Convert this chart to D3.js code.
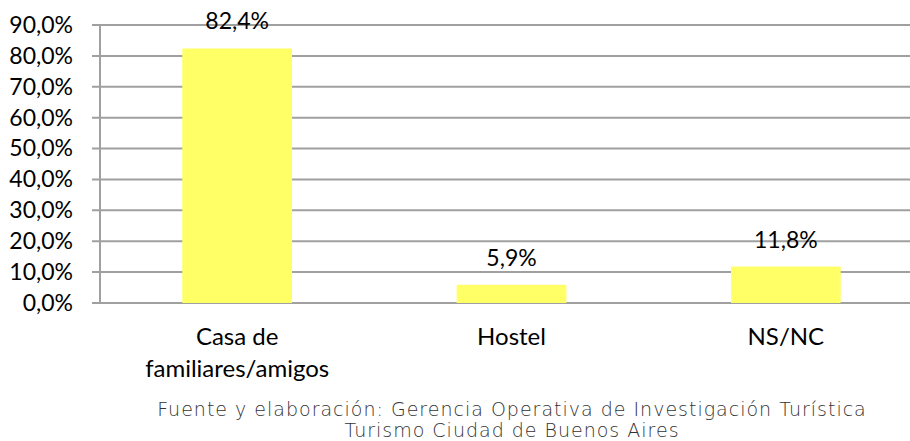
<!DOCTYPE html>
<html>
<head>
<meta charset="utf-8">
<script src="https://cdn.jsdelivr.net/npm/d3@7"></script>
<style>
  body { margin: 0; background: #fff; }
  text { font-family: Lato, "Open Sans", sans-serif; }
</style>
</head>
<body>
<svg id="chart" width="910" height="441"></svg>
<script>
const categories = [["Casa de", "familiares/amigos"], ["Hostel"], ["NS/NC"]];
const values = [82.4, 5.9, 11.8];
const valueLabels = ["82,4%", "5,9%", "11,8%"];
const yTicks = [0, 10, 20, 30, 40, 50, 60, 70, 80, 90];
const footer = ["Fuente y elaboración: Gerencia Operativa de Investigación Turística",
                "Turismo Ciudad de Buenos Aires"];

const svg = d3.select('#chart');

const xScale = d3.scaleBand().domain(d3.range(values.length))
    .range([100, 923]).paddingInner(0.6).paddingOuter(0.3);
const yScale = d3.scaleLinear().domain([0, 90]).range([303, 25]);

// gridlines
svg.append('g').selectAll('line')
    .data(yTicks)
    .enter()
    .append('line')
    .attr('x1', 92).attr('x2', 923)
    .attr('y1', d => yScale(d)).attr('y2', d => yScale(d))
    .attr('stroke', '#a0a0a0')
    .attr('stroke-width', 2);

// y axis
const yAxis = d3.axisLeft(yScale).tickValues(yTicks).tickSize(0).tickPadding(27)
    .tickFormat(d => d3.format('.1f')(d).replace('.', ',') + '%');
const gy = svg.append('g').attr('transform', 'translate(100,0)').call(yAxis);
gy.select('.domain').remove();
gy.selectAll('text').attr('font-size', 23).attr('fill', '#000')
    .style('font-family', 'Lato, sans-serif');
svg.append('line')
    .attr('x1', 100).attr('x2', 100).attr('y1', yScale(90)).attr('y2', yScale(0) + 1)
    .attr('stroke', '#a0a0a0').attr('stroke-width', 2);

// bars
svg.append('g').selectAll('rect')
    .data(values)
    .enter()
    .append('rect')
    .attr('x', (d, i) => xScale(i))
    .attr('width', xScale.bandwidth())
    .attr('y', d => yScale(d))
    .attr('height', d => yScale(0) - yScale(d))
    .attr('fill', '#ffff66');

// value labels
svg.append('g').selectAll('text')
    .data(values)
    .enter()
    .append('text')
    .attr('x', (d, i) => xScale(i) + xScale.bandwidth() / 2)
    .attr('y', d => yScale(d) - 19)
    .attr('text-anchor', 'middle')
    .attr('font-size', 23)
    .text((d, i) => valueLabels[i]);

// category labels
const cat = svg.append('g').selectAll('text')
    .data(categories)
    .enter()
    .append('text')
    .attr('text-anchor', 'middle')
    .attr('font-size', 24)
    .attr('y', 345);
cat.selectAll('tspan')
    .data((d, i) => d.map(t => ({t: t, i: i})))
    .enter()
    .append('tspan')
    .attr('x', d => xScale(d.i) + xScale.bandwidth() / 2)
    .attr('dy', (d, j) => j === 0 ? 0 : 32)
    .text(d => d.t);

// footer
svg.append('g').selectAll('text')
    .data(footer)
    .enter()
    .append('text')
    .attr('x', 512)
    .attr('y', (d, i) => 416 + i * 21)
    .attr('text-anchor', 'middle')
    .attr('font-size', 19)
    .attr('font-weight', 200)
    .attr('letter-spacing', 1)
    .attr('fill', '#333')
    .style('font-family', '"DejaVu Sans", sans-serif')
    .text(d => d);
</script>
</body>
</html>
